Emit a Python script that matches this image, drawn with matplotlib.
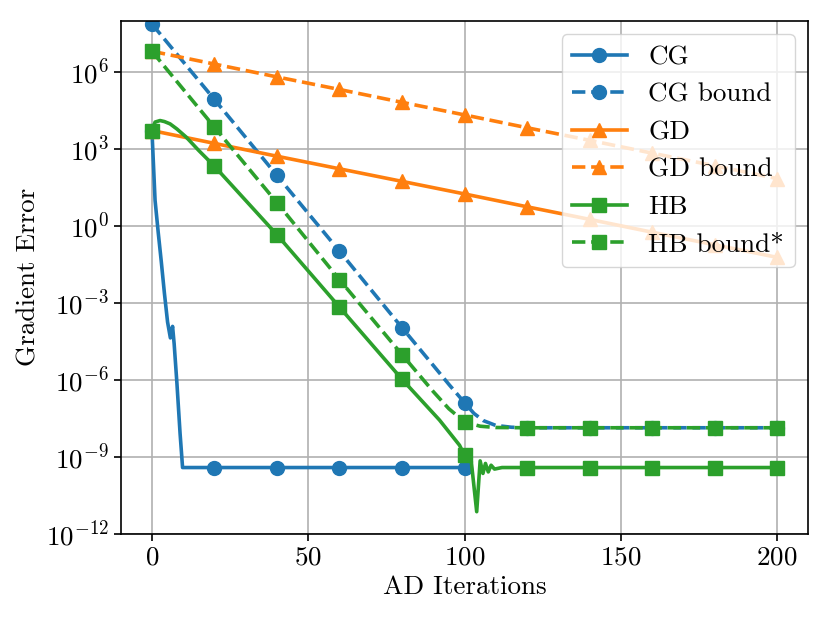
import numpy as np
import matplotlib
matplotlib.use("Agg")
import matplotlib.pyplot as plt
from matplotlib.ticker import NullLocator

plt.rcParams['font.family'] = 'serif'
plt.rcParams['font.serif'] = ['cmr10']
plt.rcParams['mathtext.fontset'] = 'cm'
plt.rcParams['axes.formatter.use_mathtext'] = True
plt.rcParams['axes.unicode_minus'] = False
plt.rcParams['font.size'] = 19.5

# values, stored as log10(gradient error)
cg_iters = [0, 1, 2, 3, 4, 5, 5.9, 6.6, 7.1, 8, 9, 9.8, 20, 40, 60, 80, 100]
cg_log = [3.72, 1.0, -0.24, -1.40, -2.63, -3.74, -4.36, -3.91, -4.58, -6.14, -8.08,
          -9.41, -9.41, -9.41, -9.41, -9.41, -9.41]

cgb_iters = [0, 20, 40, 60, 80, 90, 95, 100, 103, 106, 110, 115, 120, 140, 160, 180, 200]
cgb_log = [7.87, 4.93, 1.97, -0.98, -3.96, -5.43, -6.17, -6.88, -7.30, -7.58, -7.77,
           -7.84, -7.86, -7.86, -7.86, -7.86, -7.86]

gd_iters = [0, 20, 40, 60, 80, 100, 120, 140, 160, 180, 200]
gd_log = [3.72, 3.22, 2.72, 2.23, 1.74, 1.25, 0.75, 0.26, -0.24, -0.73, -1.22]

gdb_iters = [0, 20, 40, 60, 80, 100, 120, 140, 160, 180, 200]
gdb_log = [6.81, 6.31, 5.81, 5.32, 4.82, 4.33, 3.83, 3.34, 2.84, 2.35, 1.85]

hb_iters = [0, 1, 2.6, 4, 5.8, 8, 11, 15, 20, 40, 60, 80, 92, 98.4, 100, 102, 103.9,
            105, 105.9, 106.7, 107.6, 108.5, 109.6, 112, 120, 140, 160, 180, 200]
hb_log = [3.72, 4.05, 4.11, 4.07, 3.98, 3.78, 3.46, 2.94, 2.33, -0.34, -3.16, -5.97,
          -7.56, -8.54, -8.93, -8.99, -11.13, -9.15, -9.64, -9.25, -9.58, -9.32, -9.47,
          -9.41, -9.41, -9.41, -9.41, -9.41, -9.41]

hbb_iters = [0, 20, 40, 60, 80, 90, 95, 100, 105, 110, 120, 140, 160, 180, 200]
hbb_log = [6.81, 3.85, 0.91, -2.09, -5.01, -6.45, -7.12, -7.63, -7.80, -7.85, -7.86,
           -7.86, -7.86, -7.86, -7.86]

series = [
    ('CG', cg_iters, cg_log, 'C0', '-', 'o'),
    ('CG bound', cgb_iters, cgb_log, 'C0', '--', 'o'),
    ('GD', gd_iters, gd_log, 'C1', '-', '^'),
    ('GD bound', gdb_iters, gdb_log, 'C1', '--', '^'),
    ('HB', hb_iters, hb_log, 'C2', '-', 's'),
    ('HB bound*', hbb_iters, hbb_log, 'C2', '--', 's'),
]

fig = plt.figure(figsize=(8.3, 6.18), dpi=100)
ax = fig.add_axes([0.1454, 0.1359, 0.9739 - 0.1454, 0.9665 - 0.1359])

for label, iters, logs, color, ls, marker in series:
    marks = [i for i, it in enumerate(iters) if it % 20 == 0]
    ax.plot(iters, 10.0 ** np.array(logs), color=color, linestyle=ls, marker=marker,
            markevery=marks, markersize=10, linewidth=2.6, label=label)

ax.set_yscale('log')
ax.set_ylim(1e-12, 1e8)
ax.set_xlim(-10, 210)
ax.set_yticks([1e-12, 1e-9, 1e-6, 1e-3, 1e0, 1e3, 1e6])
ax.yaxis.set_minor_locator(NullLocator())
ax.set_xticks([0, 50, 100, 150, 200])
ax.grid(True, color='#b0b0b0', linewidth=1.2)
ax.set_axisbelow(True)
for s in ax.spines.values():
    s.set_linewidth(1.2)
ax.tick_params(width=1.2, length=5)

ax.set_xlabel('AD Iterations')
ax.set_ylabel('Gradient Error')
ax.legend(loc='upper right')

fig.savefig('out.png', dpi=100)
